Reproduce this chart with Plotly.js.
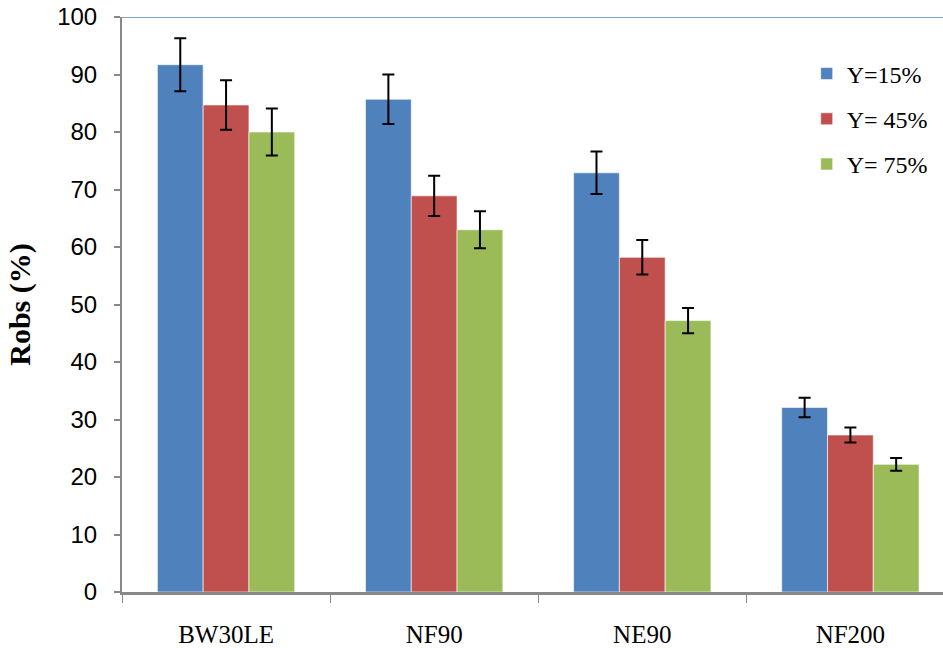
<!DOCTYPE html>
<html><head><meta charset="utf-8">
<script src="https://cdn.plot.ly/plotly-3.0.1.min.js"></script>
<style>html,body{margin:0;padding:0;background:#fff;}#chart{width:943px;height:648px;}</style>
</head><body><div id="chart"></div>
<script>
const categories = ["BW30LE", "NF90", "NE90", "NF200"];
const seriesNames = ["Y=15%", "Y= 45%", "Y= 75%"];
const y15 = [91.7, 85.7, 72.9, 32.1];
const y45 = [84.7, 68.9, 58.2, 27.3];
const y75 = [80.0, 63.0, 47.2, 22.2];
const err15 = [4.6, 4.3, 3.7, 1.7];
const err45 = [4.3, 3.5, 3.0, 1.3];
const err75 = [4.1, 3.2, 2.2, 1.1];
const yTicks = [0, 10, 20, 30, 40, 50, 60, 70, 80, 90, 100];

const colors = ["#4F81BD", "#C0504D", "#9BBB59"];
const vals = [y15, y45, y75];
const errs = [err15, err45, err75];

const traces = vals.map((v, i) => ({
  type: "bar",
  x: categories,
  y: v,
  name: seriesNames[i],
  legendgroup: "g" + i,
  marker: {color: colors[i], line: {color: "rgba(255,255,255,0.6)", width: 1}},
  error_y: {type: "data", array: errs[i], visible: true, color: "#000", thickness: 2, width: 6}
}));

const serif = "Liberation Serif, Times New Roman, serif";
const sans = "Liberation Sans, Arial, sans-serif";

const layout = {
  width: 943, height: 648,
  margin: {l: 122, r: 0, t: 17, b: 56},
  paper_bgcolor: "#fff", plot_bgcolor: "#fff",
  barmode: "group",
  bargap: 0.34, bargroupgap: 0,
  showlegend: true,
  legend: {
    x: 0.834, y: 0.94, xanchor: "left", yanchor: "top",
    font: {family: serif, size: 24, color: "#000"},
    traceorder: "grouped", tracegroupgap: 11,
    itemwidth: 30,
    bgcolor: "rgba(0,0,0,0)"
  },
  xaxis: {
    type: "category",
    range: [-0.5, 3.445],
    tickson: "boundaries",
    ticks: "outside", ticklen: 8, tickwidth: 1, tickcolor: "#888",
    showline: true, linecolor: "#888", linewidth: 3,
    showgrid: false, zeroline: false,
    tickfont: {family: serif, size: 25, color: "#000"},
    ticklabelstandoff: 18
  },
  yaxis: {
    range: [0, 100],
    tickvals: yTicks,
    ticktext: yTicks.map(String),
    ticks: "outside", ticklen: 6, tickwidth: 2, tickcolor: "#888",
    showline: true, linecolor: "#888", linewidth: 2,
    showgrid: false, zeroline: false,
    tickfont: {family: sans, size: 24, color: "#000"},
    ticklabelstandoff: 12,
    title: {text: "<b>Robs (%)</b>", font: {family: serif, size: 30, color: "#000"}, standoff: 18}
  },
  shapes: [{
    type: "line", xref: "paper", yref: "y",
    x0: 0, x1: 1, y0: 100, y1: 100,
    line: {color: "#7DA1D0", width: 2}
  }]
};

Plotly.newPlot("chart", traces, layout, {staticPlot: true, displayModeBar: false});
</script></body></html>
